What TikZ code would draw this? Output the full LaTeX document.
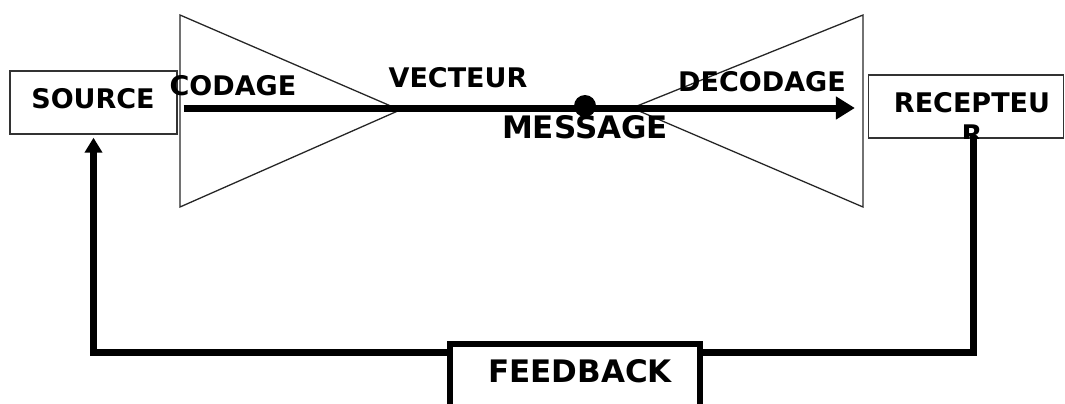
\documentclass[tikz,border=0pt]{standalone}
\usepackage{fontspec}
\setmainfont{DejaVu Sans}
\usetikzlibrary{arrows.meta}

\tikzset{
  mot/.style={font=\fontsize{27}{32}\selectfont\bfseries, inner sep=0pt, anchor=base},
  grosmot/.style={font=\fontsize{31}{36}\selectfont\bfseries, inner sep=0pt, anchor=base},
  bloc/.style={draw=black!80, line width=1.3pt, inner sep=0pt},
  canal/.style={line width=7pt},
  cone/.style={draw=black!85, line width=1.3pt, line join=miter},
}

\begin{document}
\begin{tikzpicture}[x=1pt,y=-1pt]
		%%%%% START %%%%%
		\useasboundingbox (0,0) rectangle (1065,404);
		\clip (0,0) rectangle (1065,404);
		
		\coordinate (ligne) at (0,108);
		\coordinate (bas) at (0,352);
		
		% emetteur et recepteur
		\node[bloc, minimum width=167pt, minimum height=63pt] (source) at (93.5,102.5) {};
		\node[mot] (nsource) at (93,108) {SOURCE};
		\node[bloc, minimum width=195pt, minimum height=63pt] (recepteur) at (966,106.5) {};
		\begin{scope}
			\clip (recepteur.north west) rectangle (recepteur.south east);
			\node[mot] (nrecepteur) at (972,112) {RECEPTEU};
			\node[mot] (nrecepteur2) at (972,144) {R};
		\end{scope}
		
		% codeur et decodeur
		\draw[cone] (180,15) -- (400,110) -- (180,207) -- cycle;
		\draw[cone] (863,15) -- (632,108) -- (863,207) -- cycle;
		
		% canal
		\draw[canal, -{Triangle[length=19pt,width=22pt]}] ([xshift=6pt]source.east |- ligne) -- ([xshift=-13pt]recepteur.west |- ligne);
		\node[circle, fill=black, minimum size=22pt, inner sep=0pt] (message) at (585,106) {};
		
		\node[mot] (codage) at (233,95) {CODAGE};
		\node[mot] (vecteur) at (458,88) {VECTEUR};
		\node[mot] (decodage) at (762,91) {DECODAGE};
		\node[grosmot] (nmessage) at (585,138) {MESSAGE};
		
		% retour
		\draw[canal, -{Triangle[length=15pt,width=17pt]}] ([xshift=7pt,yshift=3pt]recepteur.south) -- ([xshift=7pt]recepteur.south |- bas) -- (source.south |- bas) -- ([yshift=-3pt]source.south);
		\node[draw=black, fill=white, line width=6pt, minimum width=250pt, minimum height=86pt] (retour) at (575,387) {};
		\node[grosmot] (nretour) at (580,382) {FEEDBACK};
		%%%%% END %%%%%
	\end{tikzpicture}
\end{document}
